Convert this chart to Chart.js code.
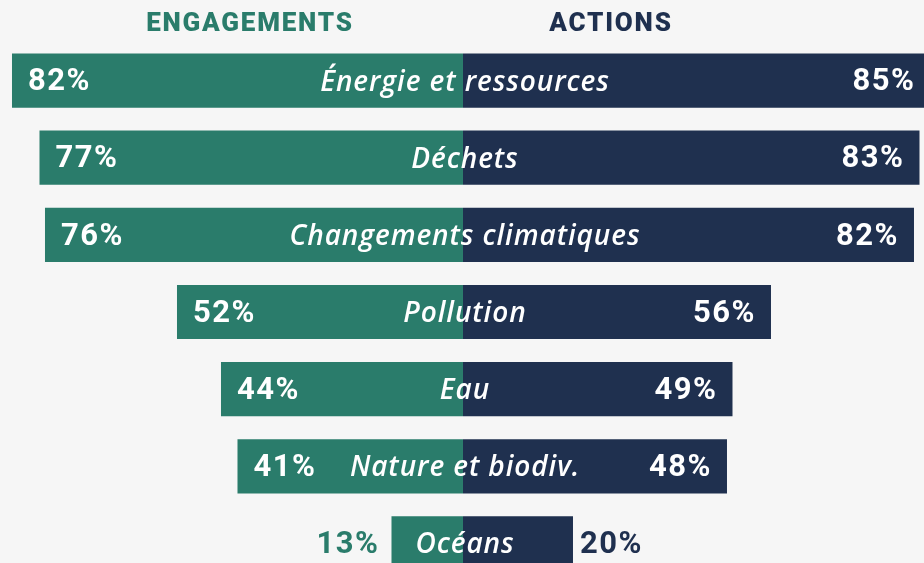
<!DOCTYPE html>
<html>
<head>
<meta charset="utf-8">
<script src="https://cdn.jsdelivr.net/npm/chart.js@4"></script>
<style>
  html, body { margin:0; padding:0; background:#f6f6f6; overflow:hidden; }
  #wrap { position:absolute; left:0; top:0; width:924px; height:582px; }
</style>
</head>
<body>
<div id="wrap"><canvas id="c"></canvas></div>
<script>
const categories = ["Énergie et ressources","Déchets","Changements climatiques","Pollution","Eau","Nature et biodiv.","Océans"];
const engagements = [82,77,76,52,44,41,13];
const actions = [85,83,82,56,49,48,20];
const headerLeft = "ENGAGEMENTS";
const headerRight = "ACTIONS";

const GREEN = "#2a7c6b";
const NAVY = "#1f304f";

const labelPlugin = {
  id: 'labels',
  afterDatasetsDraw(chart) {
    const ctx = chart.ctx;
    const xs = chart.scales.x;
    const x0 = xs.getPixelForValue(0);
    ctx.save();
    // headers
    ctx.textBaseline = 'alphabetic';
    ctx.textAlign = 'center';
    ctx.font = '900 26px Roboto';
    ctx.letterSpacing = '1.8px';
    ctx.fillStyle = GREEN;
    ctx.fillText(headerLeft, 250, 31);
    ctx.fillStyle = NAVY;
    ctx.fillText(headerRight, 611, 31);
    const mL = chart.getDatasetMeta(0).data;
    const mR = chart.getDatasetMeta(1).data;
    ctx.textBaseline = 'middle';
    ctx.font = 'bold 31px Roboto';
    ctx.letterSpacing = '1.5px';
    mL.forEach((bar, i) => {
      const v = engagements[i];
      if (v >= 25) {
        ctx.fillStyle = '#ffffff';
        ctx.textAlign = 'left';
        ctx.fillText(v + '%', bar.x + 16, bar.y + 2);
      } else {
        ctx.fillStyle = GREEN;
        ctx.textAlign = 'right';
        ctx.fillText(v + '%', bar.x - 12, bar.y + 2);
      }
    });
    mR.forEach((bar, i) => {
      const v = actions[i];
      if (v >= 25) {
        ctx.fillStyle = '#ffffff';
        ctx.textAlign = 'right';
        ctx.fillText(v + '%', bar.x - 15, bar.y + 2);
      } else {
        ctx.fillStyle = NAVY;
        ctx.textAlign = 'left';
        ctx.fillText(v + '%', bar.x + 7, bar.y + 2);
      }
    });
    ctx.letterSpacing = '0.9px';
    ctx.font = 'italic 600 28px "Open Sans"';
    ctx.fillStyle = '#ffffff';
    ctx.textAlign = 'center';
    mL.forEach((bar, i) => {
      ctx.fillText(categories[i], x0 + 2, bar.y + 2);
    });
    ctx.restore();
  }
};

new Chart(document.getElementById('c'), {
  type: 'bar',
  data: {
    labels: categories,
    datasets: [
      { label: headerLeft, data: engagements.map(v => -v), backgroundColor: GREEN, borderWidth: 0,
        barPercentage: 0.703, categoryPercentage: 1 },
      { label: headerRight, data: actions, backgroundColor: NAVY, borderWidth: 0,
        barPercentage: 0.703, categoryPercentage: 1 }
    ]
  },
  options: {
    indexAxis: 'y',
    responsive: true,
    maintainAspectRatio: false,
    animation: false,
    layout: { padding: { top: 42, bottom: 0, left: 0, right: 0 } },
    plugins: { legend: { display: false }, tooltip: { enabled: false } },
    scales: {
      x: { display: false, stacked: true, min: -84.18, max: 83.82 },
      y: { display: false, stacked: true }
    }
  },
  plugins: [labelPlugin]
});
</script>
</body>
</html>
